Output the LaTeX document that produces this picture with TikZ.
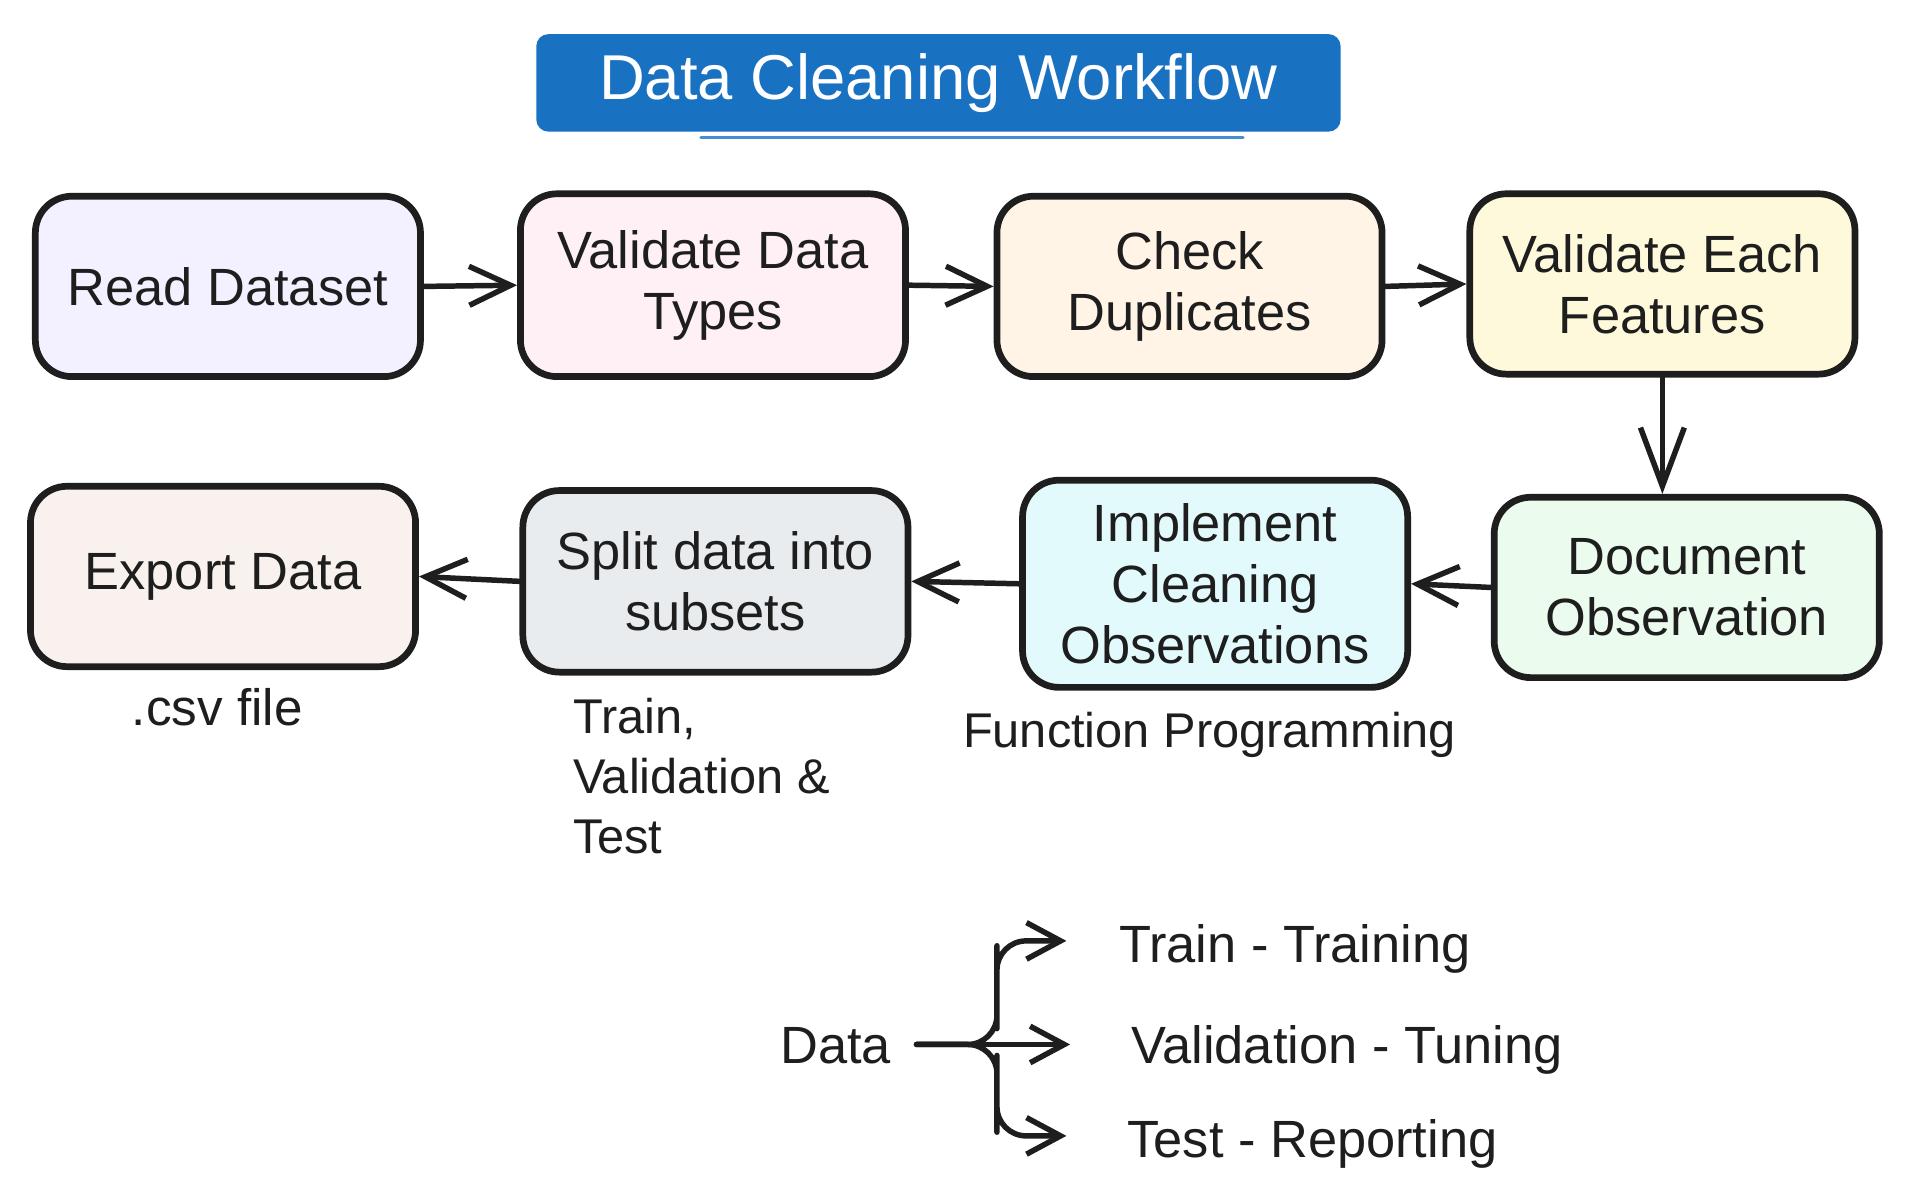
\documentclass[tikz,border=0pt]{standalone}
\usepackage{fontspec}
\setmainfont{Liberation Sans}
\usetikzlibrary{arrows.meta}
\definecolor{ink}{HTML}{1E1E1E}
\definecolor{titleblue}{HTML}{1971C2}
\definecolor{cRead}{HTML}{F3F0FF}
\definecolor{cTypes}{HTML}{FFF0F6}
\definecolor{cCheck}{HTML}{FFF4E6}
\definecolor{cEach}{HTML}{FFF9DB}
\definecolor{cDoc}{HTML}{EBFBEE}
\definecolor{cImpl}{HTML}{E3FAFC}
\definecolor{cSplit}{HTML}{E9ECEF}
\definecolor{cExport}{HTML}{F8F1EE}
\tikzset{
  stepbox/.style={draw=ink, line width=5.5pt, rounded corners=30pt, inner sep=0pt,
    minimum width=316pt, minimum height=148pt, align=center, text=ink,
    font=\fontsize{43}{50}\selectfont},
  flowarrow/.style={draw=ink, line width=4.5pt, line cap=round, line join=round,
    -{Straight Barb[length=34pt,width=32pt]}},
  brancharrow/.style={draw=ink, line width=4.5pt, line cap=round, line join=round,
    rounded corners=24pt, -{Straight Barb[length=28pt,width=30pt]}},
  note/.style={inner sep=0pt, text=ink, font=\fontsize{40}{49}\selectfont},
  legendtext/.style={note, font=\fontsize{43}{49}\selectfont},
}
\begin{document}
\begin{tikzpicture}[x=1pt, y=-1pt]
\useasboundingbox (0,0) rectangle (1568,985);
\fill[white] (0,0) rectangle (1568,985);

% title
\node[fill=titleblue, rounded corners=10pt, minimum width=660pt, minimum height=80pt,
  inner sep=0pt, text=white, font=\fontsize{52}{60}\selectfont] (title) at (770,68)
  {Data Cleaning Workflow};
\draw[titleblue!80, line width=2.5pt, line cap=round] (575,113) -- (1020,113);

% boxes
\node[stepbox, fill=cRead] (read) at (187,235) {Read Dataset};
\node[stepbox, fill=cTypes, minimum height=150pt] (types) at (585,234) {Validate Data\\Types};
\node[stepbox, fill=cCheck] (check) at (976,235) {Check\\Duplicates};
\node[stepbox, fill=cEach] (each) at (1364,233) {Validate Each\\Features};
\node[stepbox, fill=cDoc] (doc) at (1384,482) {Document\\Observation};
\node[stepbox, fill=cImpl, minimum height=170pt] (impl) at (997,479) {Implement\\Cleaning\\Observations};
\node[stepbox, fill=cSplit, minimum height=149pt] (split) at (587,477) {Split data into\\subsets};
\node[stepbox, fill=cExport] (export) at (183,473) {Export Data};

% flow arrows
\draw[flowarrow] (read.east) -- (types.west);
\draw[flowarrow] (types.east) -- (check.west);
\draw[flowarrow] (check.east) -- (each.west);
\draw[flowarrow, line width=3.5pt, -{Straight Barb[length=48pt,width=36pt,line width=4.5pt]}] (each.south) -- (each.south |- doc.north);
\draw[flowarrow] (doc.west) -- (impl.east);
\draw[flowarrow] (impl.west) -- (split.east);
\draw[flowarrow] (split.west) -- (export.east);

% notes
\node[note, anchor=base west, font=\fontsize{42}{49}\selectfont] (csv) at (108,595) {.csv file};
\node[note, anchor=north west, align=left] (subsets) at (470,573) {Train,\\Validation \&\\Test};
\node[note, anchor=base west] (func) at (790,613) {Function Programming};

% branching legend
\node[legendtext, anchor=base west] (data) at (640,873) {Data};
\node[legendtext, anchor=base west] (ttrain) at (918,790) {Train - Training};
\node[legendtext, anchor=base west] (tval) at (928,873) {Validation - Tuning};
\node[legendtext, anchor=base west] (ttest) at (925,950) {Test - Reporting};
\coordinate (fork) at (752,857);
\coordinate (tipA) at (875,772);
\coordinate (tipB) at (878,857);
\coordinate (tipC) at (875,932);
\draw[brancharrow] (fork) -| (818,820) -- (818,800) |- (tipA);
\draw[brancharrow] (fork) -- (tipB);
\draw[brancharrow] (fork) -| (818,890) -- (818,905) |- (tipC);
\end{tikzpicture}
\end{document}
